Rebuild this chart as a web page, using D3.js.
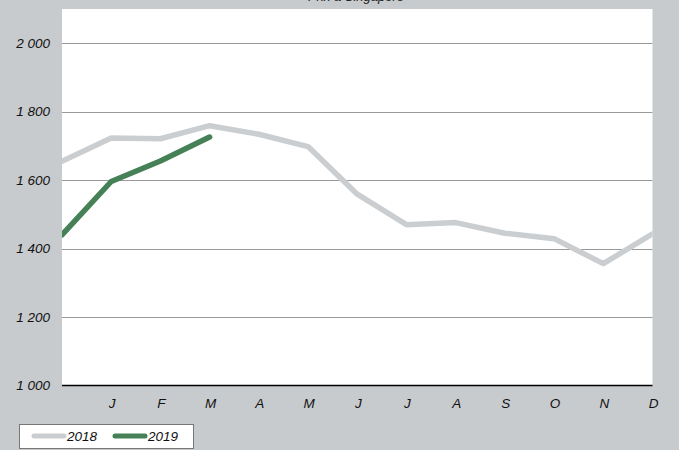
<!DOCTYPE html>
<html>
<head>
<meta charset="utf-8">
<script src="https://cdn.jsdelivr.net/npm/d3@7"></script>
<style>
  body { margin: 0; background: #c8cbce; }
  svg { display: block; font-family: "Liberation Sans", Arial, sans-serif; font-style: italic; }
</style>
</head>
<body>
<div id="chart"></div>
<script>
// months (first slot = previous December, no label)
let months = ["", "J", "F", "M", "A", "M", "J", "J", "A", "S", "O", "N", "D"];
let values2018 = [1655, 1723, 1721, 1759, 1734, 1698, 1559, 1470, 1476, 1445, 1429, 1356, 1443];
let values2019 = [1440, 1596, 1656, 1726];
let yTicks = [1000, 1200, 1400, 1600, 1800, 2000];
let seriesNames = ["2018", "2019"];
let seriesColors = ["#cbced1", "#468057"];

var width = 679, height = 450;
var plotLeft = 62, plotRight = 652.5, plotTop = 9, plotBottom = 385.5;
var fontSize = "13.5px";

let svg = d3.select("#chart").append("svg").attr("width", width).attr("height", height);

svg.append("rect").attr("width", width).attr("height", height).attr("fill", "#c8cbce");

// titre (coupé en haut, comme dans l'original)
svg.append("text")
    .attr("x", 404).attr("y", 1)
    .attr("text-anchor", "end")
    .style("font-size", "13px")
    .attr("fill", "#222")
    .text("Prix à Singapore");

svg.append("rect")
    .attr("x", plotLeft).attr("y", plotTop)
    .attr("width", plotRight - plotLeft).attr("height", plotBottom - plotTop)
    .attr("fill", "#fff");

let x = d3.scaleLinear().domain([0, months.length - 1]).range([plotLeft, plotRight]);
let y = d3.scaleLinear().domain([1000, 2100]).range([plotBottom, plotTop]);

// grid
svg.append("g").selectAll("line")
    .data(yTicks.filter(d => d > 1000))
    .join("line")
    .attr("x1", plotLeft).attr("x2", plotRight)
    .attr("y1", d => Math.round(y(d)) + 0.5).attr("y2", d => Math.round(y(d)) + 0.5)
    .attr("stroke", "#999").attr("stroke-width", 1);

// y labels
svg.append("g").selectAll("text")
    .data(yTicks)
    .join("text")
    .attr("x", 50).attr("y", d => y(d))
    .attr("dy", "0.35em")
    .attr("text-anchor", "end")
    .style("font-size", fontSize)
    .attr("fill", "#111")
    .text(d => d3.format(",")(d).replace(",", " "));

// x labels
svg.append("g").selectAll("text")
    .data(months)
    .join("text")
    .attr("x", (d, i) => x(i) + 1).attr("y", 408)
    .attr("text-anchor", "middle")
    .style("font-size", fontSize)
    .attr("fill", "#111")
    .text(d => d);

svg.append("clipPath").attr("id", "clip")
    .append("rect")
    .attr("x", plotLeft).attr("y", plotTop)
    .attr("width", plotRight - plotLeft).attr("height", plotBottom - plotTop);

let line = d3.line().x((d, i) => x(i)).y(d => y(d));

let plot = svg.append("g").attr("clip-path", "url(#clip)");
[values2018, values2019].forEach((vals, k) => {
    plot.append("path")
        .datum(vals)
        .attr("d", line)
        .attr("fill", "none")
        .attr("stroke", seriesColors[k])
        .attr("stroke-width", 5.5)
        .attr("stroke-linejoin", "round")
        .attr("stroke-linecap", "round");
});

// axe du bas
svg.append("line")
    .attr("x1", plotLeft).attr("x2", plotRight)
    .attr("y1", plotBottom).attr("y2", plotBottom)
    .attr("stroke", "#000").attr("stroke-width", 1.5);

// legende
let legend = svg.append("g");
legend.append("rect")
    .attr("x", 19.5).attr("y", 424.5)
    .attr("width", 174).attr("height", 24)
    .attr("fill", "#fff").attr("stroke", "#777");

let legendX = [34, 115];
seriesNames.forEach((name, k) => {
    legend.append("line")
        .attr("x1", legendX[k]).attr("x2", legendX[k] + 30)
        .attr("y1", 436).attr("y2", 436)
        .attr("stroke", seriesColors[k])
        .attr("stroke-width", 5)
        .attr("stroke-linecap", "round");
    legend.append("text")
        .attr("x", legendX[k] + 33).attr("y", 441)
        .style("font-size", fontSize)
        .attr("fill", "#111")
        .text(name);
});
</script>
</body>
</html>
